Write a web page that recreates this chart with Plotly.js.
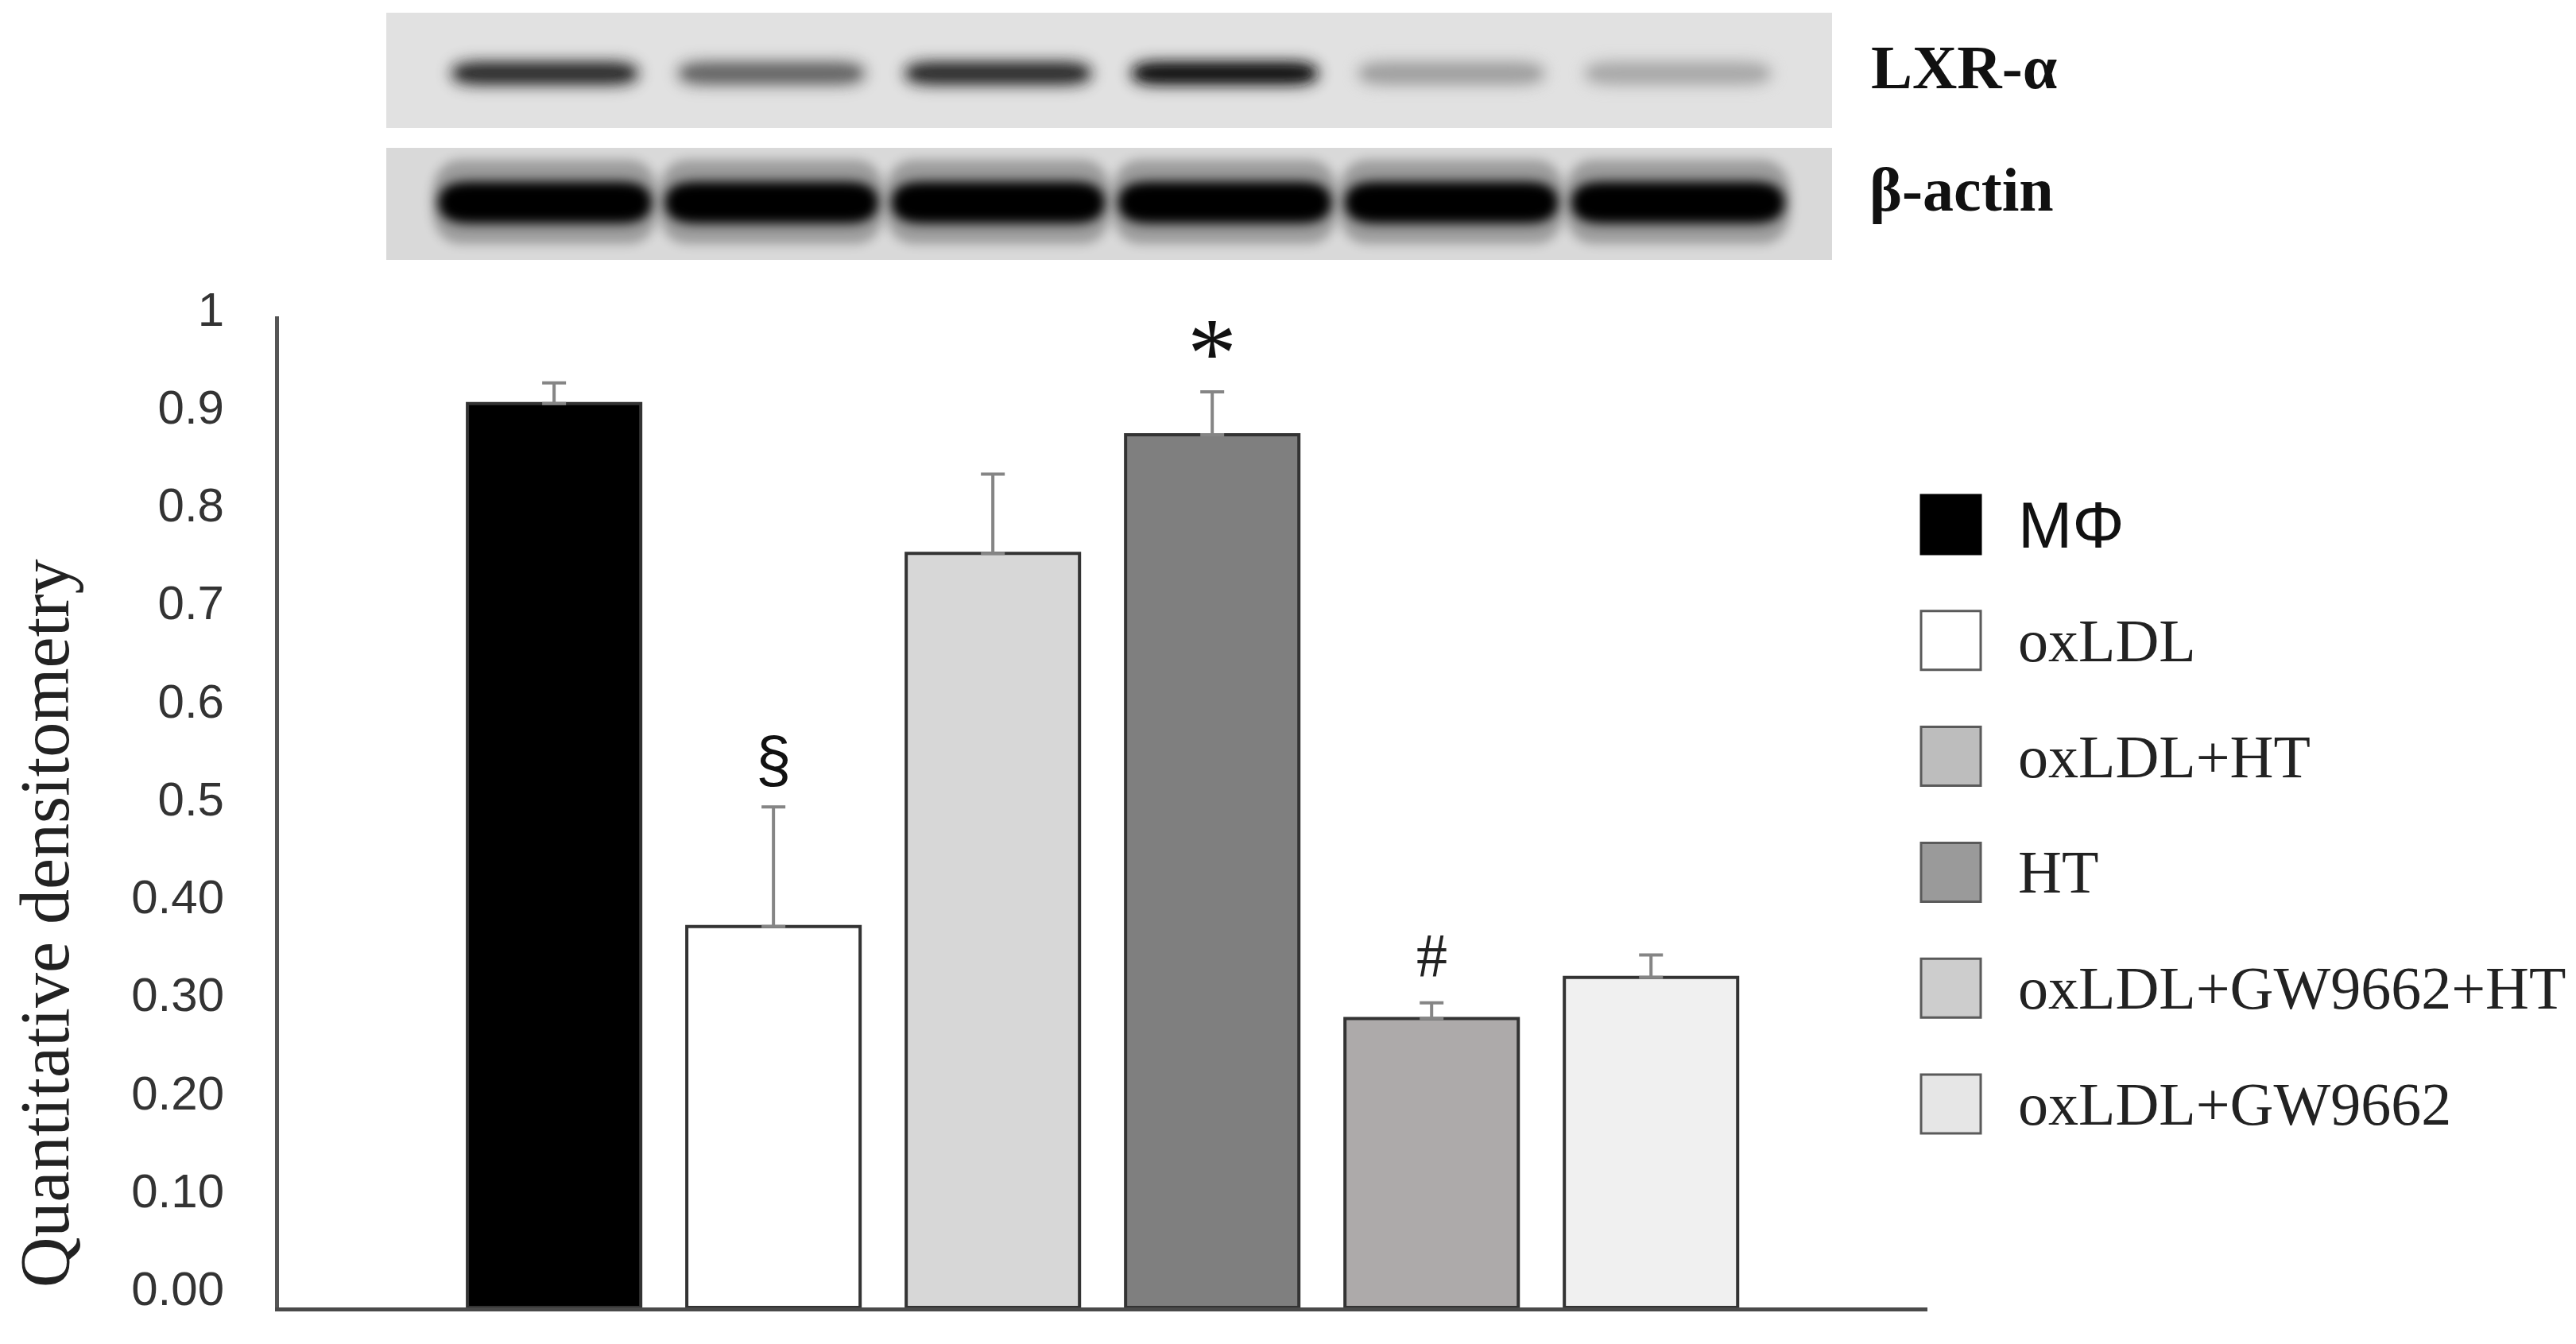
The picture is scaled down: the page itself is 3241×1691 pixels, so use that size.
<!DOCTYPE html>
<html>
<head>
<meta charset="utf-8">
<script src="https://cdn.plot.ly/plotly-3.0.1.min.js"></script>
<style>
  html, body { margin: 0; padding: 0; background: #fff; }
  #chart { width: 3241px; height: 1691px; }
</style>
</head>
<body>
<div id="chart"></div>
<script>
// groups, means and upper error bars
const groups = ['MΦ', 'oxLDL', 'oxLDL+HT', 'HT', 'oxLDL+GW9662+HT', 'oxLDL+GW9662'];
const means = [0.923, 0.389, 0.770, 0.891, 0.295, 0.337];
const errors = [0.021, 0.122, 0.081, 0.044, 0.016, 0.023];
const barColors = ['#000000', '#ffffff', '#d7d7d7', '#7f7f7f', '#adaaaa', '#f0f0f0'];
const legendColors = ['#000000', '#ffffff', '#bdbdbd', '#9a9a9a', '#cdcdcd', '#e6e6e6'];
const marks = ['', '§', '', '*', '#', ''];
const tickVals = [0, 0.1, 0.2, 0.3, 0.4, 0.5, 0.6, 0.7, 0.8, 0.9, 1];
const tickText = ['0.00', '0.10', '0.20', '0.30', '0.40', '0.5', '0.6', '0.7', '0.8', '0.9', '1'];

// western blot band darkness per lane (0 = none, 1 = black)
const blotRows = ['LXR-α', 'β-actin'];
const lxrBand = [0.80, 0.58, 0.80, 0.90, 0.36, 0.33];
const actinBand = [0.99, 0.99, 0.99, 0.99, 0.99, 0.99];

// plot area in page pixels, used to place the hand-drawn legend
const W = 3241, H = 1691;
const M = { l: 351, r: 816, t: 10, b: 46 };
const pw = W - M.l - M.r, ph = H - M.t - M.b;
const px = x => (x - M.l) / pw;
const py = y => (H - M.b - y) / ph;

const serif = 'Liberation Serif, Times New Roman, serif';
const sans = 'Liberation Sans, Arial, sans-serif';

const bars = {
  type: 'bar',
  x: groups,
  y: means,
  width: 0.79,
  marker: { color: barColors, line: { color: '#333333', width: 4 } },
  error_y: {
    type: 'data', array: errors, arrayminus: errors.map(() => 0), symmetric: false,
    color: '#858585', thickness: 4, width: 15
  },
  hoverinfo: 'x+y',
  showlegend: false
};

// empty trace so the blot axes exist
const blotHolder = { type: 'scatter', x: [], y: [], xaxis: 'x2', yaxis: 'y2', showlegend: false, hoverinfo: 'skip' };

function capsule(cx, cy, hw, hh, rx) {
  return `M${cx - hw + rx},${cy - hh} L${cx + hw - rx},${cy - hh} ` +
    `Q${cx + hw},${cy - hh} ${cx + hw},${cy} Q${cx + hw},${cy + hh} ${cx + hw - rx},${cy + hh} ` +
    `L${cx - hw + rx},${cy + hh} Q${cx - hw},${cy + hh} ${cx - hw},${cy} ` +
    `Q${cx - hw},${cy - hh} ${cx - hw + rx},${cy - hh} Z`;
}

const shapes = [];
const blurred = new Set();
// blot panels
shapes.push({ type: 'rect', xref: 'x2 domain', yref: 'y2', x0: 0, x1: 1, y0: 0.534, y1: 1, fillcolor: '#e1e1e1', line: { width: 0 }, layer: 'below' });
shapes.push({ type: 'rect', xref: 'x2 domain', yref: 'y2', x0: 0, x1: 1, y0: 0, y1: 0.453, fillcolor: '#d9d9d9', line: { width: 0 }, layer: 'below' });

function addBand(i, cy, hw, hh, dark, op) {
  const g = Math.round(255 * (1 - dark));
  blurred.add(shapes.length);
  shapes.push({
    type: 'path', xref: 'x2', yref: 'y2',
    path: capsule(i, cy, hw, hh, 0.14),
    fillcolor: `rgb(${g},${g},${g})`, opacity: op, line: { width: 0 }
  });
}
lxrBand.forEach((d, i) => {
  addBand(i, 0.755, 0.44, 0.075, d, 0.25);
  addBand(i, 0.755, 0.40, 0.042, d, 1);
});
actinBand.forEach((d, i) => {
  addBand(i, 0.235, 0.50, 0.17, d, 0.28);
  addBand(i, 0.232, 0.47, 0.085, d, 1);
});

// legend squares
const legendTop = 660, legendStep = 145.8, sq = 37;
groups.forEach((g, i) => {
  const cy = legendTop + i * legendStep;
  shapes.push({
    type: 'rect', xref: 'paper', yref: 'paper',
    x0: px(2417), x1: px(2492), y0: py(cy + sq), y1: py(cy - sq),
    fillcolor: legendColors[i], line: { color: i === 0 ? '#000' : '#5a5a5a', width: 3 }
  });
});

const annotations = [];
groups.forEach((g, i) => {
  const cy = legendTop + i * legendStep;
  annotations.push({
    xref: 'paper', yref: 'paper', x: px(2537), y: py(cy), xanchor: 'left', yanchor: 'middle',
    text: g, showarrow: false,
    font: i === 0 ? { family: sans, size: 82, color: '#111' } : { family: serif, size: 76, color: '#222' }
  });
});

// significance marks above the error bars
const markStyle = {
  '§': { font: { family: sans, size: 80, color: '#111' }, shift: 60 },
  '*': { font: { family: serif, size: 124, color: '#111' }, shift: 48 },
  '#': { font: { family: serif, size: 78, color: '#222' }, shift: 60 }
};
marks.forEach((m, i) => {
  if (!m) return;
  annotations.push({
    x: groups[i], y: means[i] + errors[i], xref: 'x', yref: 'y',
    yanchor: 'middle', yshift: markStyle[m].shift, text: m, showarrow: false, font: markStyle[m].font
  });
});

// blot row labels
annotations.push({ xref: 'paper', yref: 'paper', x: px(2352), y: py(85), xanchor: 'left', yanchor: 'middle',
  text: '<b>' + blotRows[0] + '</b>', showarrow: false, font: { family: serif, size: 78, color: '#111' } });
annotations.push({ xref: 'paper', yref: 'paper', x: px(2350), y: py(238), xanchor: 'left', yanchor: 'middle',
  text: '<b>' + blotRows[1] + '</b>', showarrow: false, font: { family: serif, size: 78, color: '#111' } });

// y axis title
annotations.push({ xref: 'paper', yref: 'paper', x: px(56), y: py(1162), xanchor: 'center', yanchor: 'middle',
  textangle: -90, text: 'Quantitative densitometry', showarrow: false, font: { family: serif, size: 88, color: '#222' } });

const layout = {
  width: W, height: H,
  margin: M,
  paper_bgcolor: '#ffffff',
  plot_bgcolor: 'rgba(0,0,0,0)',
  showlegend: false,
  xaxis: {
    type: 'category', range: [-1.254, 6.26], domain: [0, 1],
    showline: true, linecolor: '#4a4a4a', linewidth: 5,
    showticklabels: false, ticks: '', showgrid: false, zeroline: false, fixedrange: true
  },
  yaxis: {
    domain: [0, py(398)], range: [0, 1.012],
    tickvals: tickVals, ticktext: tickText,
    ticklabelshift: -24, ticklabelstandoff: 52,
    tickfont: { family: sans, size: 60, color: '#333' },
    showline: true, linecolor: '#555555', linewidth: 5,
    ticks: '', showgrid: false, zeroline: false, fixedrange: true
  },
  xaxis2: { anchor: 'y2', domain: [px(486), px(2305)], range: [-0.70, 5.68], visible: false, fixedrange: true },
  yaxis2: { anchor: 'x2', domain: [py(327), py(16)], range: [0, 1], visible: false, fixedrange: true },
  shapes: shapes,
  annotations: annotations
};

Plotly.newPlot('chart', [bars, blotHolder], layout, { displayModeBar: false, staticPlot: true }).then(gd => {
  // soften the blot bands with an svg blur
  const ns = 'http://www.w3.org/2000/svg';
  const defs = gd.querySelector('svg.main-svg defs');
  const filter = document.createElementNS(ns, 'filter');
  filter.setAttribute('id', 'bandBlur');
  filter.setAttribute('x', '-30%'); filter.setAttribute('y', '-200%');
  filter.setAttribute('width', '160%'); filter.setAttribute('height', '500%');
  const blur = document.createElementNS(ns, 'feGaussianBlur');
  blur.setAttribute('stdDeviation', '7');
  filter.appendChild(blur);
  defs.appendChild(filter);
  gd.querySelectorAll('.shapelayer path[data-index]').forEach(p => {
    if (blurred.has(+p.getAttribute('data-index'))) p.setAttribute('filter', 'url(#bandBlur)');
  });
});
</script>
</body>
</html>
